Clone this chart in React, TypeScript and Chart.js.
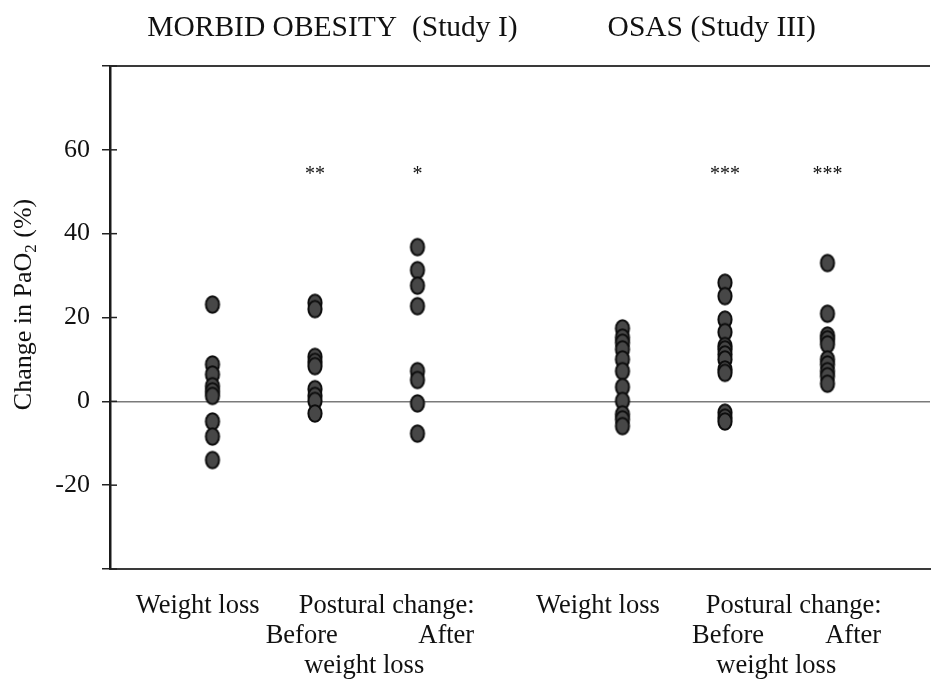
import React, { useEffect, useRef } from "react";
import { Chart, registerables } from "chart.js";

Chart.register(...registerables);

// ---- data ----
const columnNames = [
  "Morbid obesity: weight loss",
  "Morbid obesity: postural change before weight loss",
  "Morbid obesity: postural change after weight loss",
  "OSAS: weight loss",
  "OSAS: postural change before weight loss",
  "OSAS: postural change after weight loss",
];
const columnSlots = [1, 2, 3, 5, 6, 7];

const moWeightLoss = [23.1, 8.8, 6.4, 3.6, 2.4, 1.3, -4.8, -8.4, -14.0];
const moPosturalBefore = [23.5, 22.0, 10.6, 9.4, 8.4, 2.9, 1.3, 0.1, -2.9];
const moPosturalAfter = [36.8, 31.3, 27.6, 22.7, 7.2, 5.1, -0.5, -7.7];
const osasWeightLoss = [17.4, 15.2, 14.0, 12.4, 10.0, 7.2, 3.4, 0.1, -3.1, -4.3, -5.9];
const osasPosturalBefore = [28.3, 25.1, 19.5, 16.5, 13.2, 12.4, 11.2, 10.0, 7.6, 6.8, -2.7, -3.9, -4.8];
const osasPosturalAfter = [33.0, 20.9, 15.7, 14.8, 13.6, 10.0, 8.8, 7.2, 6.0, 4.2];

const columnValues = [
  moWeightLoss,
  moPosturalBefore,
  moPosturalAfter,
  osasWeightLoss,
  osasPosturalBefore,
  osasPosturalAfter,
];

const significance = ["", "**", "*", "", "***", "***"];
const significanceLevel = 55;

const yTickValues = [-40, -20, 0, 20, 40, 60, 80];
const yTickLabels = ["", "-20", "0", "20", "40", "60", ""];

const groupTitles = ["MORBID OBESITY  (Study I)", "OSAS (Study III)"];
const xRow1 = ["Weight loss", "Postural change:", "Weight loss", "Postural change:"];
const xRow2 = ["Before", "After", "Before", "After"];
const xRow3 = ["weight loss", "weight loss"];

const FONT = '"Liberation Serif", "Times New Roman", Times, serif';

function makeDot(): HTMLCanvasElement {
  const c = document.createElement("canvas");
  c.width = 18;
  c.height = 21;
  const g = c.getContext("2d")!;
  g.beginPath();
  g.ellipse(9, 10.5, 6.6, 8.2, 0, 0, Math.PI * 2);
  g.fillStyle = "#474747";
  g.fill();
  g.lineWidth = 2;
  g.strokeStyle = "#0d0d0d";
  g.stroke();
  return c;
}

const decorPlugin = {
  id: "decor",
  afterDraw(chart: any) {
    const { ctx, chartArea, scales } = chart;
    const xs = scales.x;
    const ys = scales.y;
    ctx.save();

    // top frame line
    ctx.strokeStyle = "#3a3a3a";
    ctx.lineWidth = 2;
    ctx.beginPath();
    ctx.moveTo(chartArea.left, chartArea.top);
    ctx.lineTo(chartArea.right, chartArea.top);
    ctx.stroke();

    // inner tick stubs
    ctx.strokeStyle = "#222";
    ctx.lineWidth = 1.5;
    yTickValues.forEach((v) => {
      const py = ys.getPixelForValue(v);
      ctx.beginPath();
      ctx.moveTo(chartArea.left, py);
      ctx.lineTo(chartArea.left + 7, py);
      ctx.stroke();
    });

    ctx.fillStyle = "#111";

    // y axis title with subscript
    const cy = (chartArea.top + chartArea.bottom) / 2 - 13;
    ctx.save();
    ctx.translate(31, cy);
    ctx.rotate(-Math.PI / 2);
    ctx.textBaseline = "alphabetic";
    ctx.textAlign = "left";
    const main = "Change in PaO";
    const sub = "2";
    const tail = " (%)";
    ctx.font = `26px ${FONT}`;
    const w1 = ctx.measureText(main).width;
    const w3 = ctx.measureText(tail).width;
    ctx.font = `17px ${FONT}`;
    const w2 = ctx.measureText(sub).width;
    let x0 = -(w1 + w2 + w3) / 2;
    ctx.font = `26px ${FONT}`;
    ctx.fillText(main, x0, 0);
    ctx.font = `17px ${FONT}`;
    ctx.fillText(sub, x0 + w1, 5);
    ctx.font = `26px ${FONT}`;
    ctx.fillText(tail, x0 + w1 + w2, 0);
    ctx.restore();

    // group titles
    ctx.textAlign = "center";
    ctx.textBaseline = "alphabetic";
    ctx.font = `29.5px ${FONT}`;
    ctx.fillText(groupTitles[0], xs.getPixelForValue(2.17), 36);
    ctx.fillText(groupTitles[1], xs.getPixelForValue(5.87), 36);

    // significance markers
    ctx.font = `20px ${FONT}`;
    significance.forEach((s, i) => {
      if (!s) return;
      ctx.fillText(s, xs.getPixelForValue(columnSlots[i]), ys.getPixelForValue(significanceLevel) + 9);
    });

    // x-axis category texts
    ctx.font = `26.5px ${FONT}`;
    const b = chartArea.bottom;
    const row1X = [0.855, 2.7, 4.76, 6.67];
    const row2X = [1.87, 3.28, 6.03, 7.25];
    const row3X = [2.48, 6.5];
    xRow1.forEach((t, i) => ctx.fillText(t, xs.getPixelForValue(row1X[i]), b + 44));
    xRow2.forEach((t, i) => ctx.fillText(t, xs.getPixelForValue(row2X[i]), b + 74));
    xRow3.forEach((t, i) => ctx.fillText(t, xs.getPixelForValue(row3X[i]), b + 104));

    ctx.restore();
  },
};

export default function App() {
  const ref = useRef<HTMLCanvasElement | null>(null);

  useEffect(() => {
    if (!ref.current) return;
    const dot = makeDot();
    const chart = new Chart(ref.current, {
      type: "scatter",
      data: {
        datasets: columnValues.map((vals, i) => ({
          label: columnNames[i],
          data: vals.map((v) => ({ x: columnSlots[i], y: v })),
          pointStyle: dot as any,
          pointRadius: 9,
          pointHoverRadius: 9,
          backgroundColor: "#474747",
          borderColor: "#0d0d0d",
        })),
      },
      options: {
        animation: false,
        responsive: false,
        devicePixelRatio: 1,
        layout: { padding: { top: 66, right: 2, left: 0, bottom: 0 } },
        plugins: {
          legend: { display: false },
          tooltip: { enabled: false },
          title: { display: false },
        },
        scales: {
          x: {
            type: "linear",
            min: 0,
            max: 8,
            position: "bottom",
            ticks: { display: false },
            grid: { display: false, drawTicks: false },
            border: { display: true, color: "#3a3a3a", width: 2 },
            afterFit: (s: any) => {
              s.height = 111;
            },
          },
          y: {
            type: "linear",
            min: -40,
            max: 80,
            afterBuildTicks: (s: any) => {
              s.ticks = yTickValues.map((v) => ({ value: v }));
            },
            ticks: {
              autoSkip: false,
              padding: 12,
              color: "#111",
              font: { family: FONT, size: 26 },
              callback: (value: any) => {
                const i = yTickValues.indexOf(Number(value));
                return i >= 0 ? yTickLabels[i] : "";
              },
            },
            grid: {
              drawOnChartArea: true,
              drawTicks: true,
              tickLength: 8,
              tickColor: "#222",
              tickWidth: 1.5,
              lineWidth: 1.5,
              color: (c: any) => (c.tick && c.tick.value === 0 ? "#7a7a7a" : "rgba(0,0,0,0)"),
            },
            border: { display: true, color: "#1a1a1a", width: 2.5 },
            afterFit: (s: any) => {
              s.width = 110;
            },
          },
        },
      },
      plugins: [decorPlugin],
    });
    return () => chart.destroy();
  }, []);

  return (
    <div
      style={{
        position: "absolute",
        left: 0,
        top: 0,
        width: 933,
        height: 680,
        overflow: "hidden",
        background: "#fff",
      }}
    >
      <canvas ref={ref} width={940} height={680} style={{ display: "block" }} />
    </div>
  );
}
